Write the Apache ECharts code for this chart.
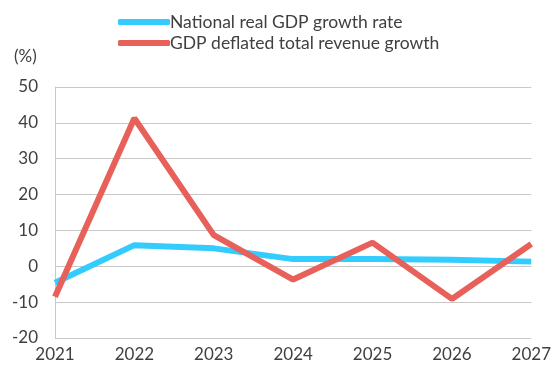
<!DOCTYPE html>
<html><head><meta charset="utf-8">
<script src="https://cdn.jsdelivr.net/npm/echarts@6/dist/echarts.min.js"></script>
<style>html,body{margin:0;padding:0;background:#fff}#c{width:554px;height:372px}</style>
</head><body><div id="c"></div>
<script>
const years = ['2021','2022','2023','2024','2025','2026','2027'];
const realGdp = [-4.6, 5.9, 5.0, 2.0, 2.0, 1.8, 1.3];
const revenue = [-8.5, 41.3, 8.7, -3.7, 6.6, -9.1, 6.2];
const seriesNames = ['National real GDP growth rate', 'GDP deflated total revenue growth'];
const colors = ['#33ccff', '#e8605a'];
const txt = '#404040';
const font = 'Lato';
const chart = echarts.init(document.getElementById('c'));
chart.setOption({
  animation: false,
  textStyle: {fontFamily: font},
  legend: {
    orient: 'vertical', left: 113, top: 8, itemGap: 3,
    itemWidth: 52, itemHeight: 6, icon: 'roundRect',
    textStyle: {fontFamily: font, fontSize: 17.5, color: txt, padding: [0,0,0,-5]},
    data: seriesNames
  },
  graphic: [{type: 'text', left: 14, top: 48, style: {text: '(%)', fontFamily: font, fontSize: 17, fill: txt}}],
  grid: {left: 55, right: 20, top: 87, bottom: 34},
  xAxis: {
    type: 'category', data: years, boundaryGap: false,
    axisLine: {show: false}, axisTick: {show: false},
    axisLabel: {color: txt, fontSize: 17, fontFamily: font, margin: 8}
  },
  yAxis: {
    type: 'value', min: -20, max: 50, interval: 10,
    axisLine: {show: true, lineStyle: {color: '#c8c8c8', width: 1}}, axisTick: {show: false},
    splitLine: {lineStyle: {color: '#c8c8c8', width: 1}},
    axisLabel: {color: txt, fontSize: 17, fontFamily: font, margin: 17}
  },
  series: [
    {name: seriesNames[0], type: 'line', data: realGdp, symbol: 'none', lineStyle: {color: colors[0], width: 6}, itemStyle: {color: colors[0]}},
    {name: seriesNames[1], type: 'line', data: revenue, symbol: 'none', lineStyle: {color: colors[1], width: 6}, itemStyle: {color: colors[1]}}
  ]
});
</script></body></html>
